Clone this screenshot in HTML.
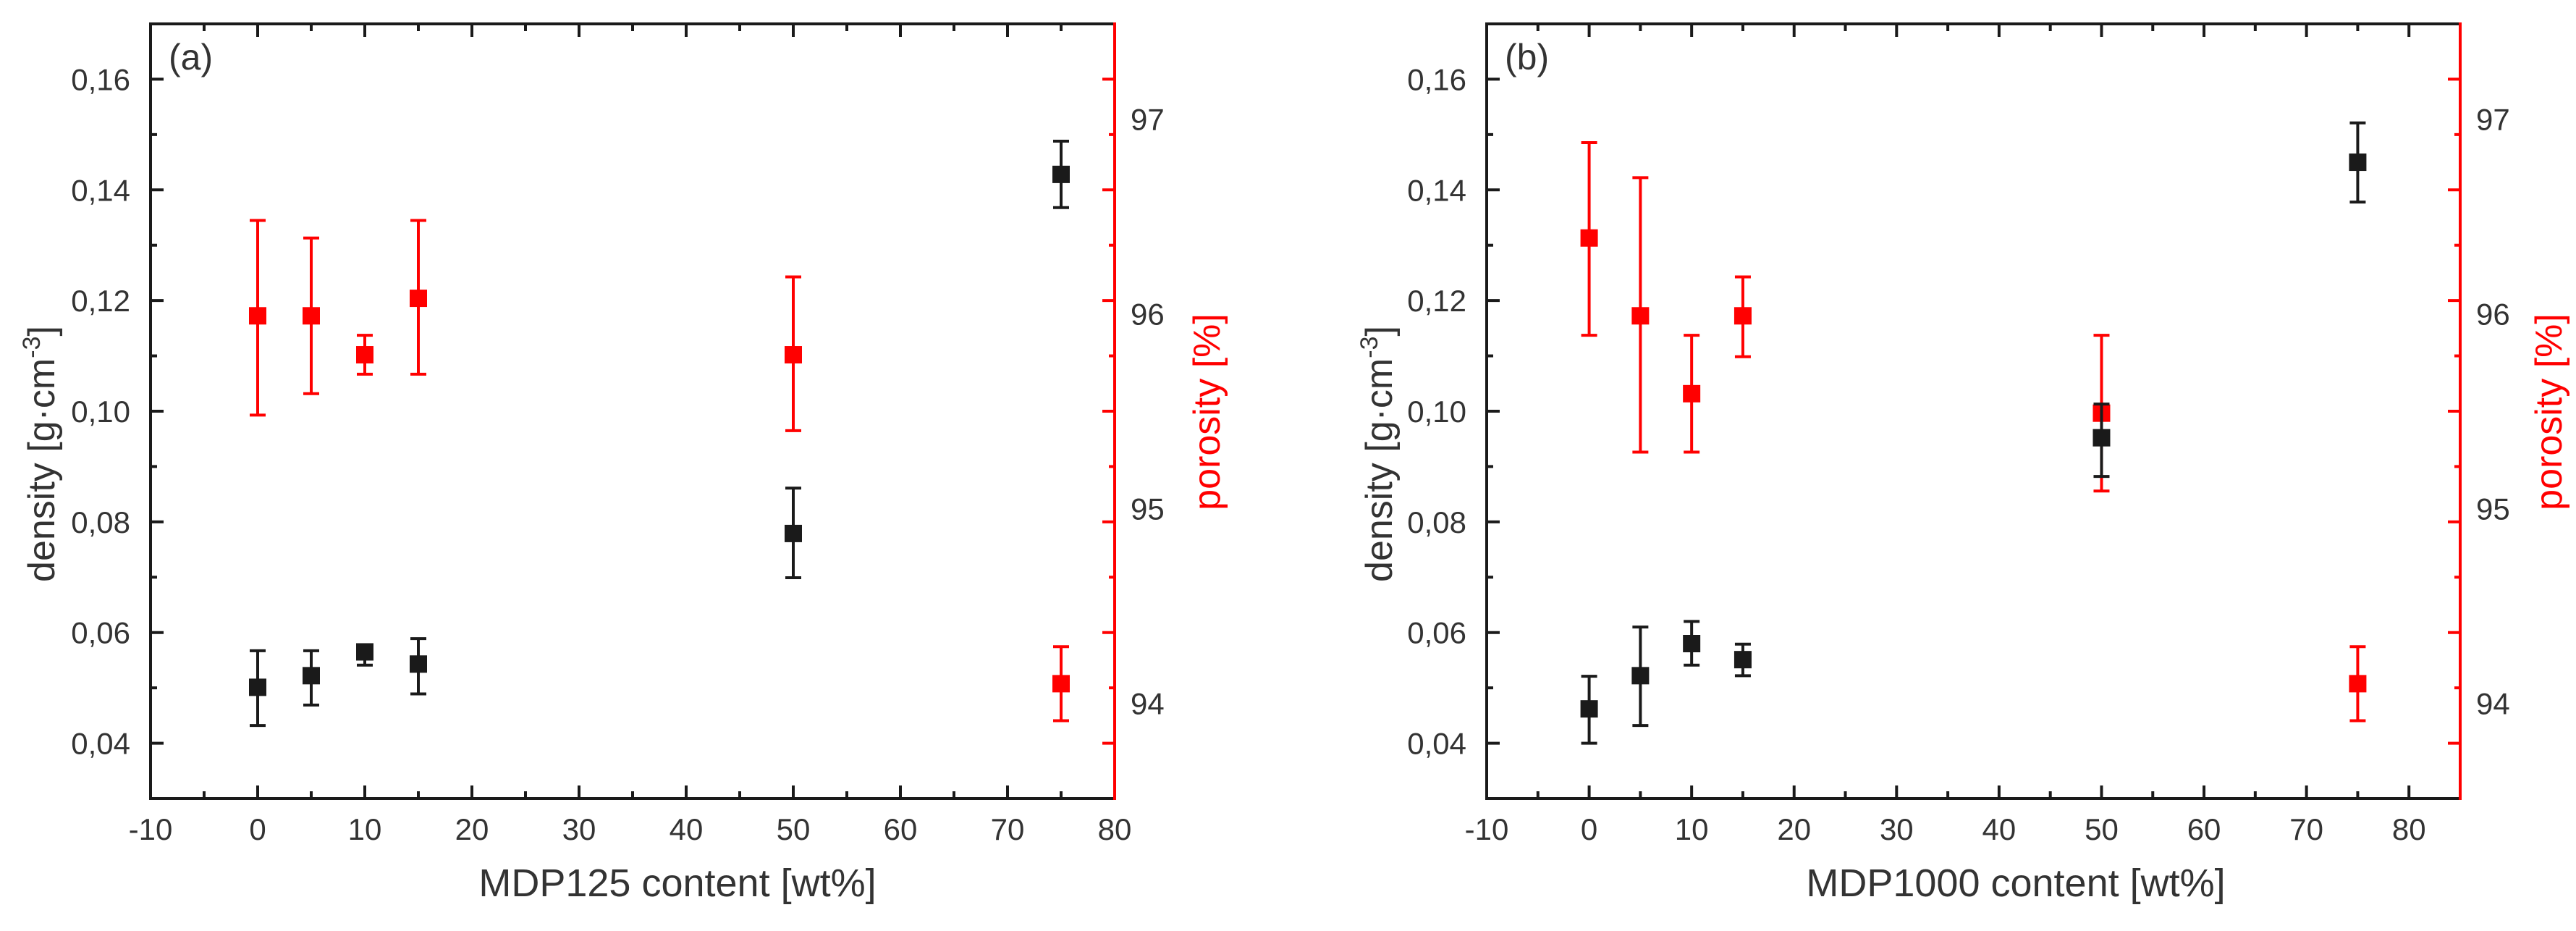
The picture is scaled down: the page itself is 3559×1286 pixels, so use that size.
<!DOCTYPE html>
<html><head><meta charset="utf-8">
<style>
html,body{margin:0;padding:0;background:#fff;}
svg{display:block;font-family:"Liberation Sans",Arial,sans-serif;}
</style></head>
<body>
<svg id="chart" width="3559" height="1286" viewBox="0 0 3559 1286" xmlns="http://www.w3.org/2000/svg"></svg>
<script>
// Panel (a) data
const aCategories = [0, 5, 10, 15, 50, 75];
const aDensity = [0.0501, 0.0522, 0.0565, 0.0543, 0.0779, 0.1428];
const aDensityHi = [0.0567, 0.0567, 0.0573, 0.0589, 0.0861, 0.1488];
const aDensityLo = [0.0432, 0.0469, 0.0541, 0.0489, 0.0699, 0.1368];
const aPorosity = [95.99, 95.99, 95.79, 96.08, 95.79, 94.10];
const aPorosityHi = [96.48, 96.39, 95.89, 96.48, 96.19, 94.29];
const aPorosityLo = [95.48, 95.59, 95.69, 95.69, 95.40, 93.91];
// Panel (b) data
const bCategories = [0, 5, 10, 15, 50, 75];
const bDensity = [0.0462, 0.0522, 0.0580, 0.0551, 0.0952, 0.1450];
const bDensityHi = [0.0521, 0.0610, 0.0620, 0.0579, 0.1013, 0.1521];
const bDensityLo = [0.0400, 0.0432, 0.0541, 0.0522, 0.0882, 0.1378];
const bPorosity = [96.39, 95.99, 95.59, 95.99, 95.49, 94.10];
const bPorosityHi = [96.88, 96.70, 95.89, 96.19, 95.89, 94.29];
const bPorosityLo = [95.89, 95.29, 95.29, 95.78, 95.09, 93.91];
// Tick labels
const xTickLabels = [-10, 0, 10, 20, 30, 40, 50, 60, 70, 80];
const densityTickLabels = ["0,04", "0,06", "0,08", "0,10", "0,12", "0,14", "0,16"];
const densityTickValues = [0.04, 0.06, 0.08, 0.10, 0.12, 0.14, 0.16];
const porosityTickLabels = [94, 95, 96, 97];

const NS = "http://www.w3.org/2000/svg";
const svg = document.getElementById("chart");
function mk(tag, attrs, parent) {
  const e = document.createElementNS(NS, tag);
  for (const k in attrs) e.setAttribute(k, attrs[k]);
  (parent || svg).appendChild(e);
  return e;
}

function panel(cfg) {
  const g = mk("g", {});
  
  
  const L = cfg.left, R = cfg.right, T = 33, B = 1103;
  const xs = v => L + (v - cfg.xmin) / (cfg.xmax - cfg.xmin) * (R - L);
  const yd = v => B - (v - 0.03) / (0.17 - 0.03) * (B - T);
  const yp = v => B - (v - 93.51) / (97.49 - 93.51) * (B - T);
  const black = "#1a1a1a", red = "#ff0000";

  for (let v = -10; v <= cfg.xmax + 0.01; v += 5) {
    const major = Math.abs(v % 10) < 0.01;
    const len = major ? 18 : 10;
    const x = xs(v);
    const t1 = mk("line", {x1:x, y1:B, x2:x, y2:B-len, stroke:black, "stroke-width":4}, g);
    
    
    const t2 = mk("line", {x1:x, y1:T, x2:x, y2:T+len, stroke:black, "stroke-width":4}, g);
    
    
  }
  xTickLabels.forEach(v => {
    const t = mk("text", {x:xs(v), y:1160, "font-size":42, fill:"#333", "text-anchor":"middle"}, g);
    
    
    t.textContent = v;
  });
  for (let k = 3; k <= 17; k++) {
    const v = k / 100;
    const major = k % 2 === 0;
    const y = yd(v);
    const t1 = mk("line", {x1:L, y1:y, x2:L + (major ? 18 : 9), y2:y, stroke:black, "stroke-width":4}, g);
    
    
    const t2 = mk("line", {x1:R, y1:y, x2:R - (major ? 17 : 8), y2:y, stroke:red, "stroke-width":4}, g);
    
    
  }
  densityTickValues.forEach((v, i) => {
    const t = mk("text", {x:L - 28, y:yd(v) + 15, "font-size":42, fill:"#333", "text-anchor":"end"}, g);
    
    
    t.textContent = densityTickLabels[i];
  });
  porosityTickLabels.forEach(v => {
    const t = mk("text", {x:R + 22, y:yp(v) + 15, "font-size":42, fill:"#333"}, g);
    
    
    t.textContent = v;
  });
  const f1 = mk("path", {d:`M${R},${T} L${L},${T} L${L},${B} L${R},${B}`, fill:"none", stroke:black, "stroke-width":4}, g);
  
  
  const f2 = mk("line", {x1:R, y1:T-2, x2:R, y2:B+2, stroke:red, "stroke-width":4}, g);
  
  

  function series(vals, hi, lo, ys, color, nm) {
    cfg.cats.forEach((c, i) => {
      const x = xs(c);
      const eb = mk("path", {d:`M${x},${ys(hi[i])} L${x},${ys(lo[i])} M${x-11},${ys(hi[i])} L${x+11},${ys(hi[i])} M${x-11},${ys(lo[i])} L${x+11},${ys(lo[i])}`, stroke:color, "stroke-width":4, fill:"none"}, g);
      
      
      const m = mk("rect", {x:x-12, y:ys(vals[i])-12, width:24, height:24, fill:color}, g);
      
      
    });
  }
  series(cfg.pv, cfg.ph, cfg.pl, yp, red, 'porosity');
  series(cfg.dv, cfg.dh, cfg.dl, yd, black, 'density');

  const pl = mk("text", {x:L + 25, y:96, "font-size":50, fill:"#333"}, g);
  
  
  pl.textContent = cfg.label;
  const xt = mk("text", {x:cfg.xtx, y:1238, "font-size":54, fill:"#333", "text-anchor":"middle"}, g);
  
  
  xt.textContent = cfg.xtitle;
  const yt = mk("text", {x:0, y:0, "font-size":52, fill:"#333", "text-anchor":"middle", transform:`translate(${cfg.ytx},627) rotate(-90)`}, g);
  
  
  yt.innerHTML = 'density [g·cm<tspan font-size="34" dy="-20">-3</tspan><tspan dy="20">]</tspan>';
  const rt = mk("text", {x:0, y:0, "font-size":52, fill:red, "text-anchor":"middle", transform:`translate(${cfg.rtx},569) rotate(-90)`}, g);
  
  
  rt.textContent = 'porosity [%]';
}

panel({name:'panel-a', left:208, right:1540, xmin:-10, xmax:80, label:'(a)', xtitle:'MDP125 content [wt%]', xtx:936, ytx:75, rtx:1685,
  cats:aCategories, dv:aDensity, dh:aDensityHi, dl:aDensityLo, pv:aPorosity, ph:aPorosityHi, pl:aPorosityLo});
panel({name:'panel-b', left:2054, right:3399, xmin:-10, xmax:85, label:'(b)', xtitle:'MDP1000 content [wt%]', xtx:2785, ytx:1923, rtx:3539,
  cats:bCategories, dv:bDensity, dh:bDensityHi, dl:bDensityLo, pv:bPorosity, ph:bPorosityHi, pl:bPorosityLo});
</script>
</body></html>
